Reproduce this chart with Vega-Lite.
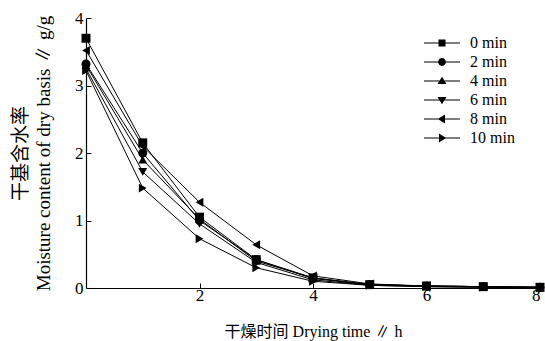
{
  "$schema": "https://vega.github.io/schema/vega-lite/v6.json",
  "width": 454,
  "height": 270,
  "autosize": {"type": "none"},
  "padding": {"left": 86, "top": 18, "right": 5, "bottom": 53},
  "background": "white",
  "config": {
    "view": {"stroke": null},
    "font": "Liberation Serif, Noto Sans CJK SC",
    "axis": {
      "grid": false,
      "domainColor": "black",
      "domainWidth": 1.2,
      "tickColor": "black",
      "tickSize": 5,
      "tickOffset": 0,
      "labelFont": "Liberation Serif",
      "labelFontSize": 17,
      "labelColor": "black",
      "titleFont": "Liberation Serif, Noto Sans CJK SC",
      "titleFontSize": 16,
      "titleFontWeight": "normal",
      "titleColor": "black"
    },
    "legend": {
      "labelFont": "Liberation Serif",
      "labelFontSize": 16,
      "labelColor": "black",
      "symbolSize": 100,
      "symbolFillColor": "black",
      "symbolOpacity": 1,
      "labelOffset": 20,
      "rowPadding": 3
    }
  },
  "data": {
    "values": [
      {"t": 0, "mc": 3.70, "series": "0 min"}, {"t": 1, "mc": 2.15, "series": "0 min"}, {"t": 2, "mc": 1.05, "series": "0 min"}, {"t": 3, "mc": 0.42, "series": "0 min"}, {"t": 4, "mc": 0.15, "series": "0 min"}, {"t": 5, "mc": 0.05, "series": "0 min"}, {"t": 6, "mc": 0.03, "series": "0 min"}, {"t": 7, "mc": 0.02, "series": "0 min"}, {"t": 8, "mc": 0.01, "series": "0 min"},
      {"t": 0, "mc": 3.32, "series": "2 min"}, {"t": 1, "mc": 2.00, "series": "2 min"}, {"t": 2, "mc": 1.00, "series": "2 min"}, {"t": 3, "mc": 0.42, "series": "2 min"}, {"t": 4, "mc": 0.14, "series": "2 min"}, {"t": 5, "mc": 0.05, "series": "2 min"}, {"t": 6, "mc": 0.03, "series": "2 min"}, {"t": 7, "mc": 0.02, "series": "2 min"}, {"t": 8, "mc": 0.01, "series": "2 min"},
      {"t": 0, "mc": 3.30, "series": "4 min"}, {"t": 1, "mc": 1.90, "series": "4 min"}, {"t": 2, "mc": 1.02, "series": "4 min"}, {"t": 3, "mc": 0.40, "series": "4 min"}, {"t": 4, "mc": 0.15, "series": "4 min"}, {"t": 5, "mc": 0.05, "series": "4 min"}, {"t": 6, "mc": 0.03, "series": "4 min"}, {"t": 7, "mc": 0.02, "series": "4 min"}, {"t": 8, "mc": 0.01, "series": "4 min"},
      {"t": 0, "mc": 3.25, "series": "6 min"}, {"t": 1, "mc": 1.72, "series": "6 min"}, {"t": 2, "mc": 0.95, "series": "6 min"}, {"t": 3, "mc": 0.38, "series": "6 min"}, {"t": 4, "mc": 0.12, "series": "6 min"}, {"t": 5, "mc": 0.04, "series": "6 min"}, {"t": 6, "mc": 0.02, "series": "6 min"}, {"t": 7, "mc": 0.01, "series": "6 min"}, {"t": 8, "mc": 0.01, "series": "6 min"},
      {"t": 0, "mc": 3.52, "series": "8 min"}, {"t": 1, "mc": 2.10, "series": "8 min"}, {"t": 2, "mc": 1.27, "series": "8 min"}, {"t": 3, "mc": 0.64, "series": "8 min"}, {"t": 4, "mc": 0.18, "series": "8 min"}, {"t": 5, "mc": 0.06, "series": "8 min"}, {"t": 6, "mc": 0.03, "series": "8 min"}, {"t": 7, "mc": 0.02, "series": "8 min"}, {"t": 8, "mc": 0.01, "series": "8 min"},
      {"t": 0, "mc": 3.22, "series": "10 min"}, {"t": 1, "mc": 1.48, "series": "10 min"}, {"t": 2, "mc": 0.73, "series": "10 min"}, {"t": 3, "mc": 0.30, "series": "10 min"}, {"t": 4, "mc": 0.10, "series": "10 min"}, {"t": 5, "mc": 0.04, "series": "10 min"}, {"t": 6, "mc": 0.02, "series": "10 min"}, {"t": 7, "mc": 0.01, "series": "10 min"}, {"t": 8, "mc": 0.01, "series": "10 min"}
    ]
  },
  "encoding": {
    "x": {
      "field": "t", "type": "quantitative",
      "scale": {"domain": [0, 8], "nice": false},
      "axis": {"values": [2, 4, 6, 8], "title": "干燥时间 Drying time ∥ h", "titlePadding": 20, "labelPadding": 4, "tickSize": -5}
    },
    "y": {
      "field": "mc", "type": "quantitative",
      "scale": {"domain": [0, 4], "nice": false},
      "axis": {"values": [0, 1, 2, 3, 4], "title": ["干基含水率", "Moisture content of dry basis ∥ g/g"], "titleFontSize": 19, "titleLineHeight": 23, "titlePadding": 21, "labelPadding": 8, "tickSize": -5}
    }
  },
  "layer": [
    {
      "mark": {"type": "line", "color": "black", "strokeWidth": 1},
      "encoding": {"detail": {"field": "series"}}
    },
    {
      "mark": {"type": "point", "filled": true, "color": "black", "opacity": 1, "size": 80},
      "encoding": {
        "shape": {
          "field": "series",
          "scale": {"domain": ["0 min", "2 min", "4 min", "6 min", "8 min", "10 min"], "range": ["square", "circle", "triangle-up", "triangle-down", "triangle-left", "triangle-right"]},
          "legend": null
        }
      }
    },
    {
      "mark": {"type": "point", "filled": true, "color": "black", "opacity": 0},
      "encoding": {
        "shape": {
          "field": "series",
          "scale": {"domain": ["0 min", "2 min", "4 min", "6 min", "8 min", "10 min"], "range": [
            "M-3.6,-0.1L3.6,-0.1L3.6,0.1L-3.6,0.1ZM-0.7,-0.7L0.7,-0.7L0.7,0.7L-0.7,0.7Z",
            "M-3.6,-0.1L3.6,-0.1L3.6,0.1L-3.6,0.1ZM0.78,0A0.78,0.78,0,1,1,-0.78,0A0.78,0.78,0,1,1,0.78,0Z",
            "M-3.6,-0.1L3.6,-0.1L3.6,0.1L-3.6,0.1ZM0,-0.85L0.9,0.6L-0.9,0.6Z",
            "M-3.6,-0.1L3.6,-0.1L3.6,0.1L-3.6,0.1ZM0,0.85L-0.9,-0.6L0.9,-0.6Z",
            "M-3.6,-0.1L3.6,-0.1L3.6,0.1L-3.6,0.1ZM-0.85,0L0.6,-0.9L0.6,0.9Z",
            "M-3.6,-0.1L3.6,-0.1L3.6,0.1L-3.6,0.1ZM0.85,0L-0.6,0.9L-0.6,-0.9Z"
          ]},
          "legend": {"title": null, "orient": "none", "legendX": 348, "legendY": 17}
        }
      }
    }
  ],
  "resolve": {"scale": {"shape": "independent"}, "legend": {"shape": "independent"}}
}
